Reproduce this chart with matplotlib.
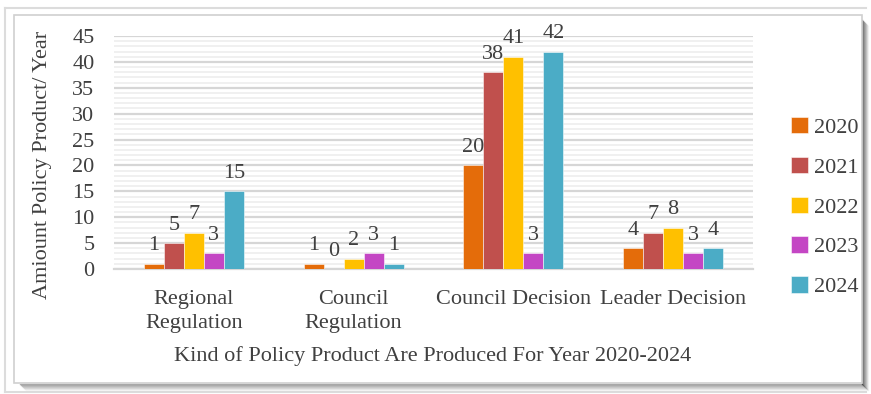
import matplotlib
matplotlib.use("Agg")
import matplotlib.pyplot as plt
import numpy as np
from matplotlib.patches import Rectangle
from matplotlib.lines import Line2D

categories = ["Regional\nRegulation", "Council\nRegulation", "Council Decision", "Leader Decision"]
years = ["2020", "2021", "2022", "2023", "2024"]
v2020 = [1, 1, 20, 4]
v2021 = [5, 0, 38, 7]
v2022 = [7, 2, 41, 8]
v2023 = [3, 3, 3, 3]
v2024 = [15, 1, 42, 4]
series = [v2020, v2021, v2022, v2023, v2024]
colors = ["#E46C0A", "#C0504D", "#FFC000", "#C446C4", "#4BACC6"]
yticks = [0, 5, 10, 15, 20, 25, 30, 35, 40, 45]

plt.rcParams['font.family'] = ['Liberation Serif', 'DejaVu Serif']
plt.rcParams['font.serif'] = ['Liberation Serif', 'DejaVu Serif']
txt = "#404040"
fs = 16

W, H = 871, 394
fig = plt.figure(figsize=(W/100, H/100), dpi=100)
fig.patch.set_facecolor("white")

def fx(px): return px / W
def fy(py): return 1 - py / H

# frame decorations
deco = []
deco.append(Line2D([fx(5), fx(866)], [fy(8), fy(8)], color="#DCDCDC", lw=1.5))
deco.append(Line2D([fx(5), fx(5)], [fy(8), fy(392)], color="#DCDCDC", lw=1.5))
deco.append(Line2D([fx(5), fx(866)], [fy(392), fy(392)], color="#DCDCDC", lw=1.5))
for i, a in enumerate(np.linspace(0.6, 0.05, 7)):
    deco.append(Line2D([fx(862 + i), fx(862 + i)], [fy(20 + i), fy(384 + i)], color="black", alpha=a*0.8, lw=1))
    deco.append(Line2D([fx(20 + i), fx(862 + i)], [fy(384 + i), fy(384 + i)], color="black", alpha=a*0.5, lw=1))
deco.append(Rectangle((fx(14), fy(383)), fx(848), (383-15)/H, facecolor="white",
                      edgecolor="#D0D0D0", lw=1.2))
for d in deco:
    d.set_zorder(-5)
    fig.add_artist(d)

ax = fig.add_axes([fx(114), fy(269), fx(753-114), (269-36)/H])
ax.set_zorder(1)
ax.set_facecolor("white")
x = np.arange(len(categories))
bw = 0.125
for i, (vals, c, yr) in enumerate(zip(series, colors, years)):
    xs = x + (i - 2) * bw
    ax.bar(xs, vals, width=bw, color=c, edgecolor=(1, 1, 1, 0.6), lw=0.6, label=yr, zorder=3)
    for xi, v in zip(xs, vals):
        ax.annotate(str(v), (xi, v), xytext=(0, 6), textcoords="offset points",
                    ha="center", va="bottom", fontsize=fs, color=txt, zorder=4)

ax.set_ylim(0, 45)
ax.set_xlim(-0.5, 3.5)
ax.set_yticks(yticks)
ax.set_yticks(np.arange(0, 46, 1), minor=True)
ax.grid(axis="y", which="minor", color="#EDEDED", lw=1.2, zorder=0)
ax.grid(axis="y", which="major", color="#D6D6D6", lw=1.6, zorder=1)
ax.set_xticks(x)
ax.set_xticklabels(categories, fontsize=fs, color=txt, linespacing=1.4)
ax.tick_params(axis="y", length=0, pad=14, labelsize=fs, labelcolor=txt, which="both")
ax.tick_params(axis="x", length=0, pad=15)
for s in ["top", "right", "left"]:
    ax.spines[s].set_visible(False)
ax.spines["bottom"].set_color("#D6D6D6")
ax.spines["bottom"].set_linewidth(1.6)

fig.text(fx(42), fy(165), "Amiount Policy Product/ Year", rotation=90, ha="center", va="center",
         fontsize=fs, color=txt)
fig.text(fx(433), fy(356), "Kind of Policy Product Are Produced For Year 2020-2024", ha="center",
         va="center", fontsize=fs, color=txt)

handles, labels = ax.get_legend_handles_labels()
leg = fig.legend(handles, labels, loc="upper left", bbox_to_anchor=(fx(780), fy(106)),
                 frameon=False, fontsize=fs,
                 handlelength=0.75, handleheight=0.75,
                 handletextpad=0.3, labelspacing=0.85, borderpad=0)
for t in leg.get_texts():
    t.set_fontfamily(["Liberation Serif", "DejaVu Serif"])
    t.set_color(txt)

fig.savefig("out.png", dpi=100)
